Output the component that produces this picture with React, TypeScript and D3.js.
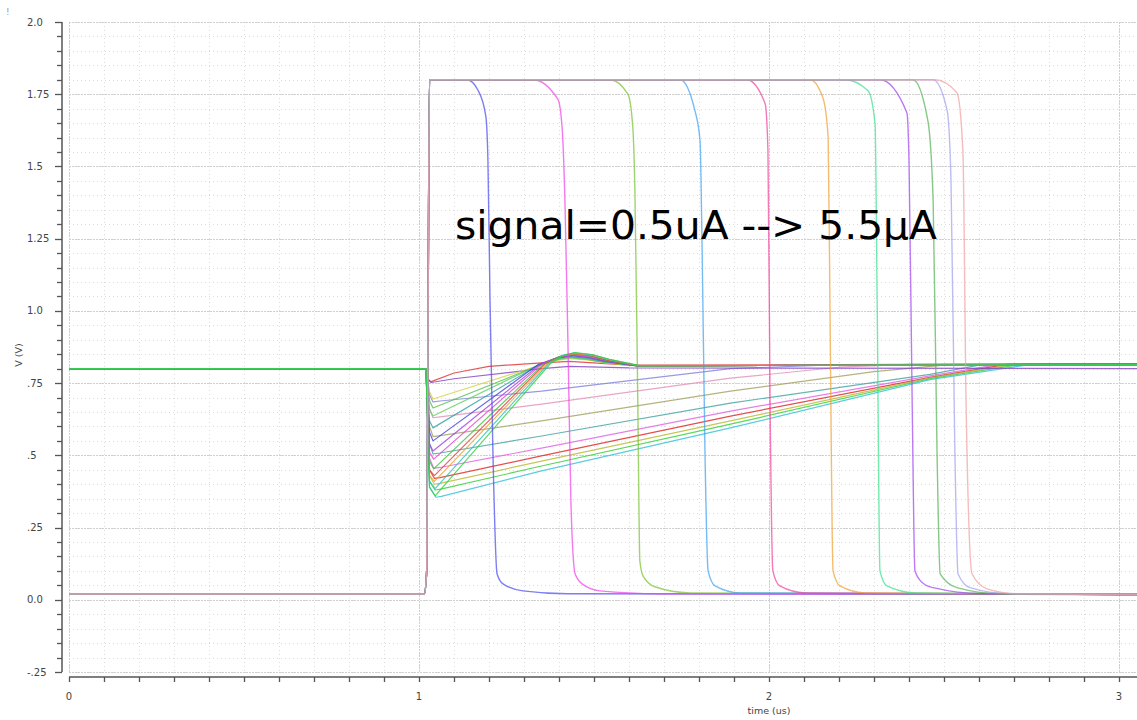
import React, { useEffect, useRef } from "react";
import * as d3 from "d3";

// axis ticks
const yMajorTicks = [-0.25, 0, 0.25, 0.5, 0.75, 1.0, 1.25, 1.5, 1.75, 2.0];
const yTickLabels = ["-.25", "0.0", ".25", ".5", ".75", "1.0", "1.25", "1.5", "1.75", "2.0"];
const xMajorTicks = [0, 1, 2, 3];
const xTickLabels = ["0", "1", "2", "3"];

// output nodes: rise at ~1.02us, fall back at different times (t in us, V)
const out1 = [[0, 0.02], [1.015, 0.02], [1.022, 0.1], [1.026, 1.0], [1.03, 1.8], [1.137, 1.8], [1.169, 1.763], [1.191, 1.673], [1.197, 1.517], [1.203, 1.03], [1.211, 0.52], [1.223, 0.09], [1.24, 0.055], [1.297, 0.031], [1.423, 0.021], [3.06, 0.018]];
const out2 = [[0, 0.02], [1.015, 0.02], [1.022, 0.1], [1.026, 1.0], [1.03, 1.8], [1.326, 1.8], [1.397, 1.732], [1.409, 1.632], [1.417, 1.38], [1.426, 0.86], [1.434, 0.34], [1.446, 0.09], [1.466, 0.055], [1.517, 0.031], [1.689, 0.021], [3.06, 0.018]];
const out3 = [[0, 0.02], [1.015, 0.02], [1.022, 0.1], [1.026, 1.0], [1.03, 1.8], [1.546, 1.8], [1.597, 1.75], [1.611, 1.633], [1.617, 1.405], [1.625, 0.7], [1.631, 0.135], [1.64, 0.083], [1.674, 0.045], [1.774, 0.024], [3.06, 0.018]];
const out4 = [[0, 0.02], [1.015, 0.02], [1.022, 0.1], [1.026, 1.0], [1.03, 1.8], [1.746, 1.8], [1.789, 1.69], [1.803, 1.588], [1.809, 1.207], [1.817, 0.516], [1.826, 0.1], [1.846, 0.048], [1.917, 0.024], [3.06, 0.018]];
const out5 = [[0, 0.02], [1.015, 0.02], [1.022, 0.1], [1.026, 1.0], [1.03, 1.8], [1.937, 1.8], [1.989, 1.717], [1.997, 1.554], [2.003, 0.689], [2.011, 0.1], [2.031, 0.048], [2.103, 0.024], [3.06, 0.018]];
const out6 = [[0, 0.02], [1.015, 0.02], [1.022, 0.1], [1.026, 1.0], [1.03, 1.8], [2.117, 1.8], [2.154, 1.738], [2.169, 1.6], [2.174, 1.035], [2.183, 0.1], [2.203, 0.048], [2.274, 0.024], [3.06, 0.018]];
const out7 = [[0, 0.02], [1.015, 0.02], [1.022, 0.1], [1.026, 1.0], [1.03, 1.8], [2.217, 1.8], [2.283, 1.762], [2.303, 1.648], [2.309, 1.035], [2.317, 0.1], [2.337, 0.048], [2.417, 0.024], [3.06, 0.018]];
const out8 = [[0, 0.02], [1.015, 0.02], [1.022, 0.1], [1.026, 1.0], [1.03, 1.8], [2.317, 1.8], [2.394, 1.686], [2.4, 1.52], [2.409, 0.689], [2.417, 0.1], [2.446, 0.052], [2.469, 0.042], [2.611, 0.021], [3.06, 0.018]];
const out9 = [[0, 0.02], [1.015, 0.02], [1.022, 0.1], [1.026, 1.0], [1.03, 1.8], [2.411, 1.8], [2.454, 1.658], [2.469, 1.38], [2.48, 0.516], [2.489, 0.09], [2.537, 0.042], [2.66, 0.021], [3.06, 0.018]];
const out10 = [[0, 0.02], [1.015, 0.02], [1.022, 0.1], [1.026, 1.0], [1.03, 1.8], [2.469, 1.8], [2.509, 1.693], [2.52, 1.45], [2.531, 0.516], [2.54, 0.09], [2.574, 0.042], [2.689, 0.021], [3.06, 0.018]];
const out11 = [[0, 0.02], [1.015, 0.02], [1.022, 0.1], [1.026, 1.0], [1.03, 1.8], [2.474, 1.8], [2.537, 1.755], [2.554, 1.554], [2.563, 0.689], [2.58, 0.09], [2.623, 0.038], [2.709, 0.021], [3.06, 0.018]];

// bias nodes (~0.8V): fast recovery with overshoot
const fast1 = [[0, 0.8], [1.02, 0.8], [1.028, 0.76], [1.035, 0.755], [1.1, 0.785], [1.2, 0.808], [1.35, 0.82], [1.43, 0.825], [1.6, 0.812], [3.06, 0.816]];
const fast2 = [[0, 0.8], [1.02, 0.8], [1.028, 0.76], [1.035, 0.752], [1.1, 0.765], [1.35, 0.8], [1.43, 0.808], [1.6, 0.803], [3.06, 0.8]];
const fast3 = [[0, 0.8], [1.02, 0.8], [1.03, 0.72], [1.04, 0.695], [1.34, 0.81], [1.39, 0.828], [1.43, 0.835], [1.48, 0.83], [1.53, 0.82], [1.62, 0.81], [3.06, 0.814]];
const fast4 = [[0, 0.8], [1.02, 0.8], [1.03, 0.69], [1.04, 0.664], [1.34, 0.81], [1.39, 0.83], [1.43, 0.838], [1.48, 0.832], [1.53, 0.822], [1.62, 0.81], [3.06, 0.814]];
const fast5 = [[0, 0.8], [1.02, 0.8], [1.03, 0.66], [1.04, 0.636], [1.34, 0.812], [1.39, 0.832], [1.43, 0.84], [1.48, 0.834], [1.53, 0.823], [1.62, 0.81], [3.06, 0.814]];
const fast6 = [[0, 0.8], [1.02, 0.8], [1.03, 0.62], [1.04, 0.595], [1.34, 0.812], [1.39, 0.834], [1.43, 0.842], [1.48, 0.836], [1.53, 0.824], [1.62, 0.81], [3.06, 0.814]];
const fast7 = [[0, 0.8], [1.02, 0.8], [1.03, 0.58], [1.04, 0.55], [1.34, 0.814], [1.39, 0.836], [1.435, 0.845], [1.485, 0.838], [1.535, 0.825], [1.62, 0.81], [3.06, 0.814]];
const fast8 = [[0, 0.8], [1.02, 0.8], [1.03, 0.54], [1.04, 0.515], [1.345, 0.814], [1.395, 0.838], [1.435, 0.847], [1.485, 0.84], [1.535, 0.826], [1.62, 0.81], [3.06, 0.814]];
const fast9 = [[0, 0.8], [1.02, 0.8], [1.03, 0.51], [1.042, 0.487], [1.35, 0.815], [1.4, 0.84], [1.44, 0.849], [1.49, 0.842], [1.54, 0.827], [1.625, 0.81], [3.06, 0.814]];
const fast10 = [[0, 0.8], [1.02, 0.8], [1.03, 0.48], [1.042, 0.453], [1.355, 0.815], [1.4, 0.842], [1.44, 0.851], [1.49, 0.844], [1.54, 0.828], [1.625, 0.81], [3.06, 0.814]];
const fast11 = [[0, 0.8], [1.02, 0.8], [1.03, 0.45], [1.044, 0.43], [1.36, 0.816], [1.405, 0.843], [1.44, 0.852], [1.49, 0.845], [1.54, 0.829], [1.63, 0.81], [3.06, 0.814]];
const fast12 = [[0, 0.8], [1.02, 0.8], [1.03, 0.43], [1.044, 0.41], [1.365, 0.816], [1.41, 0.844], [1.445, 0.853], [1.495, 0.846], [1.545, 0.83], [1.63, 0.81], [3.06, 0.814]];
const fast13 = [[0, 0.8], [1.02, 0.8], [1.03, 0.41], [1.046, 0.385], [1.37, 0.817], [1.41, 0.846], [1.445, 0.855], [1.495, 0.848], [1.545, 0.831], [1.63, 0.81], [3.06, 0.814]];
const fast14 = [[0, 0.8], [1.02, 0.8], [1.03, 0.39], [1.046, 0.36], [1.375, 0.817], [1.415, 0.847], [1.445, 0.856], [1.495, 0.849], [1.545, 0.832], [1.635, 0.81], [3.06, 0.814]];

// bias nodes (~0.8V): slow linear recovery
const slow1 = [[0, 0.8], [1.02, 0.8], [1.03, 0.71], [1.04, 0.685], [1.06, 0.688], [1.35, 0.722], [1.89, 0.8], [2.2, 0.814], [3.06, 0.818]];
const slow2 = [[0, 0.8], [1.02, 0.8], [1.03, 0.66], [1.04, 0.63], [1.06, 0.633], [1.35, 0.677], [1.89, 0.767], [2.2, 0.805], [2.4, 0.815], [3.06, 0.818]];
const slow3 = [[0, 0.8], [1.02, 0.8], [1.03, 0.6], [1.04, 0.565], [1.06, 0.568], [1.35, 0.619], [1.89, 0.722], [2.3, 0.79], [2.5, 0.812], [3.06, 0.818]];
const slow4 = [[0, 0.8], [1.02, 0.8], [1.03, 0.54], [1.04, 0.505], [1.06, 0.508], [1.35, 0.567], [1.89, 0.681], [2.46, 0.78], [2.6, 0.812], [3.06, 0.818]];
const slow5 = [[0, 0.8], [1.02, 0.8], [1.03, 0.49], [1.042, 0.455], [1.06, 0.458], [1.35, 0.525], [1.89, 0.653], [2.46, 0.775], [2.65, 0.813], [3.06, 0.818]];
const slow6 = [[0, 0.8], [1.02, 0.8], [1.03, 0.45], [1.044, 0.42], [1.06, 0.423], [1.35, 0.498], [1.89, 0.636], [2.46, 0.77], [2.68, 0.815], [3.06, 0.818]];
const slow7 = [[0, 0.8], [1.02, 0.8], [1.03, 0.43], [1.044, 0.4], [1.06, 0.403], [1.35, 0.48], [1.89, 0.619], [2.46, 0.768], [2.7, 0.815], [3.06, 0.818]];
const slow8 = [[0, 0.8], [1.02, 0.8], [1.03, 0.41], [1.046, 0.38], [1.062, 0.383], [1.35, 0.463], [1.89, 0.608], [2.46, 0.765], [2.72, 0.815], [3.06, 0.818]];
const slow9 = [[0, 0.8], [1.02, 0.8], [1.03, 0.39], [1.048, 0.355], [1.064, 0.358], [1.35, 0.446], [1.89, 0.595], [2.46, 0.762], [2.75, 0.815], [3.06, 0.818]];

const outputSeries = [out1, out2, out3, out4, out5, out6, out7, out8, out9, out10, out11];
const fastSeries = [fast1, fast2, fast3, fast4, fast5, fast6, fast7, fast8, fast9, fast10, fast11, fast12, fast13, fast14];
const slowSeries = [slow1, slow2, slow3, slow4, slow5, slow6, slow7, slow8, slow9];

const outputColors = ["#4646f0", "#f040e8", "#78c030", "#3ca0f0", "#f0409a", "#f0a030", "#38e08c", "#a040f0", "#52b052", "#a0a0f0", "#f0a0a0"];
const fastColors = ["#e03030", "#8040c0", "#d8d040", "#50c050", "#60d060", "#30a0a0", "#4040e0", "#a040e0", "#e040d0", "#40c040", "#e04040", "#f0a030", "#30c0c0", "#30d040"];
const slowColors = ["#8080d8", "#e090b8", "#a0a060", "#40a0a0", "#e060e0", "#e02020", "#b8b830", "#30d030", "#30c0d8"];

const App = () => {
  const svgRef = useRef(null);

  useEffect(() => {
    const svg = d3.select(svgRef.current);
    svg.selectAll("*").remove();

    const plotLeft = 69;
    const plotRight = 1137;
    const plotTop = 22;
    const plotBottom = 672;

    const xScale = d3.scaleLinear().domain([0, 1]).range([69, 419]);
    const yScale = d3.scaleLinear().domain([-0.25, 2.0]).range([plotBottom, plotTop]);

    svg.append("rect").attr("width", 1137).attr("height", 720).attr("fill", "#fff");

    // grid
    const grid = svg.append("g");
    const yMinor = d3.range(-0.25, 2.0001, 0.05);
    const xMinor = d3.range(0, 3.06, 0.1);
    grid
      .selectAll("line.hy")
      .data(yMinor)
      .join("line")
      .attr("x1", plotLeft)
      .attr("x2", plotRight)
      .attr("y1", (d) => Math.round(yScale(d)) + 0.5)
      .attr("y2", (d) => Math.round(yScale(d)) + 0.5)
      .attr("stroke", "#dcdcdc")
      .attr("stroke-dasharray", "1,3");
    grid
      .selectAll("line.vx")
      .data(xMinor)
      .join("line")
      .attr("y1", plotTop)
      .attr("y2", plotBottom)
      .attr("x1", (d) => Math.round(xScale(d)) + 0.5)
      .attr("x2", (d) => Math.round(xScale(d)) + 0.5)
      .attr("stroke", "#dcdcdc")
      .attr("stroke-dasharray", "1,3");
    grid
      .selectAll("line.hmaj")
      .data(yMajorTicks)
      .join("line")
      .attr("x1", plotLeft)
      .attr("x2", plotRight)
      .attr("y1", (d) => Math.round(yScale(d)) + 0.5)
      .attr("y2", (d) => Math.round(yScale(d)) + 0.5)
      .attr("stroke", "#d0d0d0")
      .attr("stroke-dasharray", "2,1");
    grid
      .selectAll("line.vmaj")
      .data(xMajorTicks)
      .join("line")
      .attr("y1", plotTop)
      .attr("y2", plotBottom)
      .attr("x1", (d) => Math.round(xScale(d)) + 0.5)
      .attr("x2", (d) => Math.round(xScale(d)) + 0.5)
      .attr("stroke", "#d0d0d0")
      .attr("stroke-dasharray", "2,1");

    // curves
    svg
      .append("clipPath")
      .attr("id", "plotclip")
      .append("rect")
      .attr("x", plotLeft)
      .attr("y", plotTop)
      .attr("width", plotRight - plotLeft)
      .attr("height", plotBottom - plotTop);

    const smoothLine = d3
      .line()
      .x((d) => xScale(d[0]))
      .y((d) => yScale(d[1]))
      .curve(d3.curveMonotoneX);

    const straightLine = d3
      .line()
      .x((d) => xScale(d[0]))
      .y((d) => yScale(d[1]));

    const curves = svg.append("g").attr("clip-path", "url(#plotclip)").attr("fill", "none");

    const drawGroup = (series, colors, width, opacity, gen) => {
      series.forEach((s, i) => {
        curves
          .append("path")
          .datum(s)
          .attr("stroke", colors[i % colors.length])
          .attr("stroke-width", width)
          .attr("stroke-opacity", opacity)
          .attr("stroke-linejoin", "round")
          .attr("d", gen);
      });
    };

    drawGroup(slowSeries, slowColors, 1.2, 0.8, straightLine);
    drawGroup(fastSeries, fastColors, 1.2, 0.8, straightLine);
    drawGroup(outputSeries, outputColors, 1.4, 0.7, smoothLine);

    // y axis
    const axisColor = "#555";
    const yAxisX = 62;
    svg
      .append("line")
      .attr("x1", yAxisX)
      .attr("x2", yAxisX)
      .attr("y1", plotTop)
      .attr("y2", plotBottom)
      .attr("stroke", axisColor)
      .attr("stroke-width", 1.5);
    svg
      .append("g")
      .selectAll("line")
      .data(yMinor)
      .join("line")
      .attr("x1", (d, i) => (i % 5 === 0 ? yAxisX - 7 : yAxisX - 5))
      .attr("x2", yAxisX)
      .attr("y1", (d) => Math.round(yScale(d)) + 0.5)
      .attr("y2", (d) => Math.round(yScale(d)) + 0.5)
      .attr("stroke", axisColor)
      .attr("stroke-width", 1.3);
    svg
      .append("g")
      .selectAll("text")
      .data(yMajorTicks)
      .join("text")
      .attr("x", 27)
      .attr("y", (d) => yScale(d) + 3.5)
      .attr("font-family", "DejaVu Sans, sans-serif")
      .attr("font-size", 10)
      .attr("fill", "#444")
      .text((d, i) => yTickLabels[i]);

    // x axis
    const xAxisY = 677;
    svg
      .append("line")
      .attr("x1", plotLeft)
      .attr("x2", plotRight)
      .attr("y1", xAxisY)
      .attr("y2", xAxisY)
      .attr("stroke", axisColor)
      .attr("stroke-width", 1.5);
    svg
      .append("g")
      .selectAll("line")
      .data(xMinor)
      .join("line")
      .attr("x1", (d) => Math.round(xScale(d)) + 0.5)
      .attr("x2", (d) => Math.round(xScale(d)) + 0.5)
      .attr("y1", xAxisY)
      .attr("y2", xAxisY + 5)
      .attr("stroke", axisColor)
      .attr("stroke-width", 1.3);
    svg
      .append("g")
      .selectAll("text")
      .data(xMajorTicks)
      .join("text")
      .attr("x", (d) => xScale(d))
      .attr("y", 700)
      .attr("text-anchor", "middle")
      .attr("font-family", "DejaVu Sans, sans-serif")
      .attr("font-size", 10)
      .attr("fill", "#444")
      .text((d, i) => xTickLabels[i]);

    // axis titles
    svg
      .append("text")
      .attr("x", xScale(2))
      .attr("y", 714)
      .attr("text-anchor", "middle")
      .attr("font-family", "DejaVu Sans, sans-serif")
      .attr("font-size", 9.5)
      .attr("fill", "#444")
      .text("time (us)");
    svg
      .append("text")
      .attr("transform", "translate(22,355) rotate(-90)")
      .attr("text-anchor", "middle")
      .attr("font-family", "DejaVu Sans, sans-serif")
      .attr("font-size", 9.5)
      .attr("fill", "#444")
      .text("V (V)");

    svg
      .append("text")
      .attr("x", 6)
      .attr("y", 15)
      .attr("font-family", "DejaVu Sans, sans-serif")
      .attr("font-size", 9)
      .attr("fill", "#999")
      .text("!");

    // annotation
    svg
      .append("text")
      .attr("x", 455)
      .attr("y", 239)
      .attr("font-family", "DejaVu Sans, sans-serif")
      .attr("font-size", 39)
      .attr("textLength", 482)
      .attr("lengthAdjust", "spacingAndGlyphs")
      .attr("fill", "#000")
      .text("signal=0.5uA --> 5.5μA");
  }, []);

  return (
    <svg
      ref={svgRef}
      width={1137}
      height={720}
      style={{ position: "absolute", left: 0, top: 0, display: "block" }}
    />
  );
};

export default App;
